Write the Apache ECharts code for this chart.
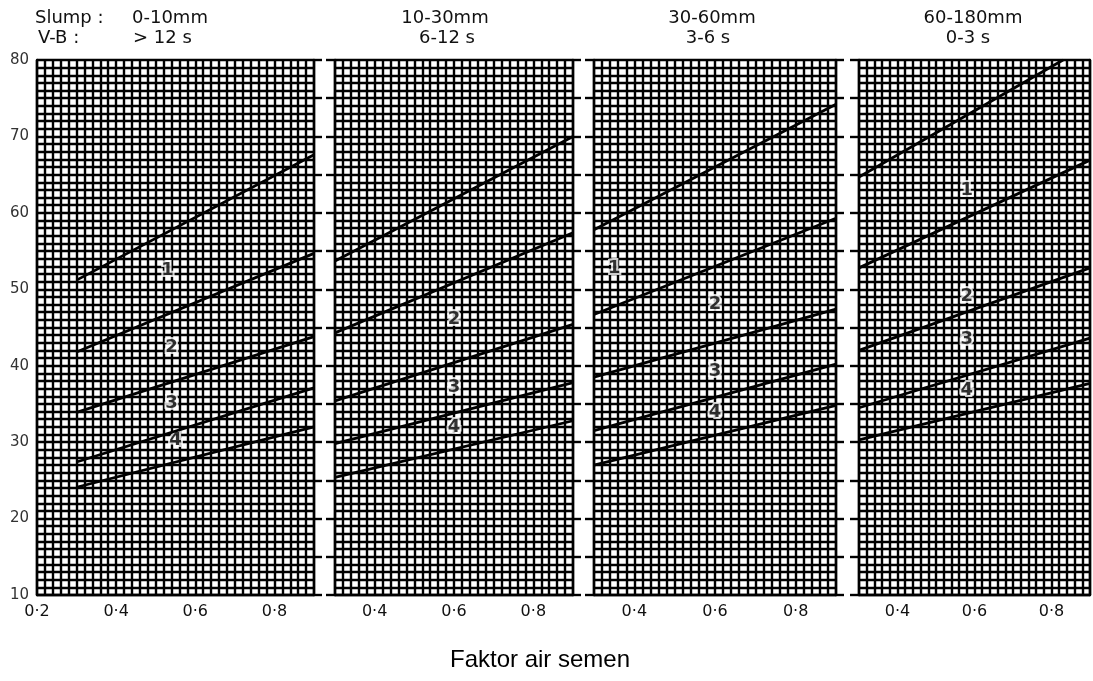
<!DOCTYPE html>
<html>
<head>
<meta charset="utf-8">
<title>Faktor air semen</title>
<script src="https://cdn.jsdelivr.net/npm/echarts@6/dist/echarts.min.js"></script>
<style>
html,body{margin:0;padding:0;background:#fff;}
#chart{width:1093px;height:681px;}
</style>
</head>
<body>
<div id="chart"></div>
<script>
// header texts per panel
var slumpText = ['0-10mm', '10-30mm', '30-60mm', '60-180mm'];
var vbText = ['> 12 s', '6-12 s', '3-6 s', '0-3 s'];
var xTitle = 'Faktor air semen';

// axes
var xMinList = [0.2, 0.3, 0.3, 0.3];
var xMax = 0.9;
var yMin = 10, yMax = 80;
var xLabelValues = [0.2, 0.4, 0.6, 0.8];
var yLabelValues = [10, 20, 30, 40, 50, 60, 70, 80];

// lines per panel, each as [[x0, y0], [x1, y1]]
var linesP1 = [
  [[0.3, 51.2], [0.9, 67.6]],
  [[0.3, 41.8], [0.9, 54.7]],
  [[0.3, 33.9], [0.9, 43.8]],
  [[0.3, 27.4], [0.9, 37.1]],
  [[0.3, 24.1], [0.9, 32.0]]
];
var linesP2 = [
  [[0.3, 53.7], [0.9, 70.0]],
  [[0.3, 44.3], [0.9, 57.4]],
  [[0.3, 35.4], [0.9, 45.4]],
  [[0.3, 29.8], [0.9, 37.8]],
  [[0.3, 25.4], [0.9, 32.8]]
];
var linesP3 = [
  [[0.3, 57.8], [0.9, 74.2]],
  [[0.3, 46.7], [0.9, 59.3]],
  [[0.3, 38.5], [0.9, 47.4]],
  [[0.3, 31.5], [0.9, 40.2]],
  [[0.3, 27.0], [0.9, 34.8]]
];
var linesP4 = [
  [[0.3, 64.7], [0.83, 80.0]],
  [[0.3, 52.8], [0.9, 66.9]],
  [[0.3, 42.0], [0.9, 52.8]],
  [[0.3, 34.5], [0.9, 43.6]],
  [[0.3, 30.3], [0.9, 37.7]]
];

// zone numbers [x, y, text]
var zonesP1 = [[0.53, 52.5, '1'], [0.54, 42.4, '2'], [0.54, 35.1, '3'], [0.55, 30.3, '4']];
var zonesP2 = [[0.6, 46.1, '2'], [0.6, 37.2, '3'], [0.6, 32.0, '4']];
var zonesP3 = [[0.35, 52.8, '1'], [0.6, 48.0, '2'], [0.6, 39.3, '3'], [0.6, 33.9, '4']];
var zonesP4 = [[0.58, 63.0, '1'], [0.58, 49.1, '2'], [0.58, 43.4, '3'], [0.58, 36.8, '4']];

var allLines = [linesP1, linesP2, linesP3, linesP4];
var allZones = [zonesP1, zonesP2, zonesP3, zonesP4];

var chart = echarts.init(document.getElementById('chart'));

var gridPos = [
  {left: 37, width: 277},
  {left: 335, width: 238},
  {left: 594, width: 242},
  {left: 859, width: 238}
];
var gridLine = {color: '#000', width: 2.4};

var grids = [], xAxes = [], yAxes = [], series = [];
for (var i = 0; i < 4; i++) {
  grids.push({left: gridPos[i].left, width: gridPos[i].width, top: 60, height: 535, containLabel: false});
  xAxes.push({
    type: 'value', gridIndex: i, min: xMinList[i], max: xMax, interval: 0.1,
    axisLine: {show: true, lineStyle: {color: '#000', width: 2.4}},
    axisTick: {show: false},
    minorTick: {show: false, splitNumber: 5},
    splitLine: {show: true, lineStyle: gridLine},
    minorSplitLine: {show: true, lineStyle: gridLine},
    axisLabel: {
      margin: 9, fontSize: 16, fontFamily: 'DejaVu Sans', color: '#111',
      showMinLabel: true, showMaxLabel: true,
      formatter: function (v) {
        for (var k = 0; k < xLabelValues.length; k++) {
          if (Math.abs(v - xLabelValues[k]) < 1e-6) return String(xLabelValues[k]).replace('.', '·');
        }
        return '';
      }
    }
  });
  // left y axis
  yAxes.push({
    type: 'value', gridIndex: i, position: 'left', min: yMin, max: yMax, interval: 5,
    axisLine: {show: true, lineStyle: {color: '#000', width: 2.4}},
    axisTick: {show: i > 0, length: 9, lineStyle: {color: '#000', width: 2.4}},
    minorTick: {show: false, splitNumber: 5},
    splitLine: {show: true, lineStyle: gridLine},
    minorSplitLine: {show: true, lineStyle: gridLine},
    axisLabel: {
      show: i === 0, margin: 8, fontSize: 15, fontFamily: 'DejaVu Sans', color: '#333',
      formatter: function (v) { return yLabelValues.indexOf(v) >= 0 ? String(v) : ''; }
    }
  });
  // right y axis, ticks only
  yAxes.push({
    type: 'value', gridIndex: i, position: 'right', min: yMin, max: yMax, interval: 5,
    axisLine: {show: true, lineStyle: {color: '#000', width: 2.4}},
    axisTick: {show: i < 3, length: 8, lineStyle: {color: '#000', width: 2.4}},
    splitLine: {show: false},
    axisLabel: {show: false}
  });
  allLines[i].forEach(function (seg) {
    series.push({
      type: 'line', xAxisIndex: i, yAxisIndex: i * 2, data: seg,
      symbol: 'none', silent: true, clip: true,
      lineStyle: {color: '#000', width: 2.8}
    });
  });
  series.push({
    type: 'scatter', xAxisIndex: i, yAxisIndex: i * 2, data: allZones[i],
    symbolSize: 1, itemStyle: {color: 'rgba(0,0,0,0)'}, silent: true,
    label: {
      show: true, position: 'inside', fontSize: 18, fontWeight: 'bold',
      fontFamily: 'DejaVu Sans', color: '#000',
      textBorderColor: '#fff', textBorderWidth: 4,
      formatter: function (p) { return p.value[2]; }
    }
  });
}

var hdrFont = '18px "DejaVu Sans"';
var graphics = [
  {type: 'text', x: 35, y: 18, style: {text: 'Slump :', font: hdrFont, fill: '#111', textVerticalAlign: 'middle'}},
  {type: 'text', x: 38, y: 38, style: {text: 'V-B :', font: hdrFont, fill: '#111', textVerticalAlign: 'middle'}},
  {type: 'text', x: 132, y: 18, style: {text: slumpText[0], font: hdrFont, fill: '#111', textVerticalAlign: 'middle'}},
  {type: 'text', x: 133, y: 38, style: {text: vbText[0], font: hdrFont, fill: '#111', textVerticalAlign: 'middle'}}
];
var hdrCenters = [[445, 447], [712, 708], [973, 968]];
for (var j = 1; j < 4; j++) {
  graphics.push({type: 'text', x: hdrCenters[j - 1][0], y: 18, style: {text: slumpText[j], font: hdrFont, fill: '#111', textAlign: 'center', textVerticalAlign: 'middle'}});
  graphics.push({type: 'text', x: hdrCenters[j - 1][1], y: 38, style: {text: vbText[j], font: hdrFont, fill: '#111', textAlign: 'center', textVerticalAlign: 'middle'}});
}
graphics.push({type: 'text', x: 540, y: 660, style: {text: xTitle, font: '24px "Liberation Sans"', fill: '#000', textAlign: 'center', textVerticalAlign: 'middle'}});

chart.setOption({
  animation: false,
  backgroundColor: '#fff',
  grid: grids,
  xAxis: xAxes,
  yAxis: yAxes,
  series: series,
  graphic: graphics
});
</script>
</body>
</html>
